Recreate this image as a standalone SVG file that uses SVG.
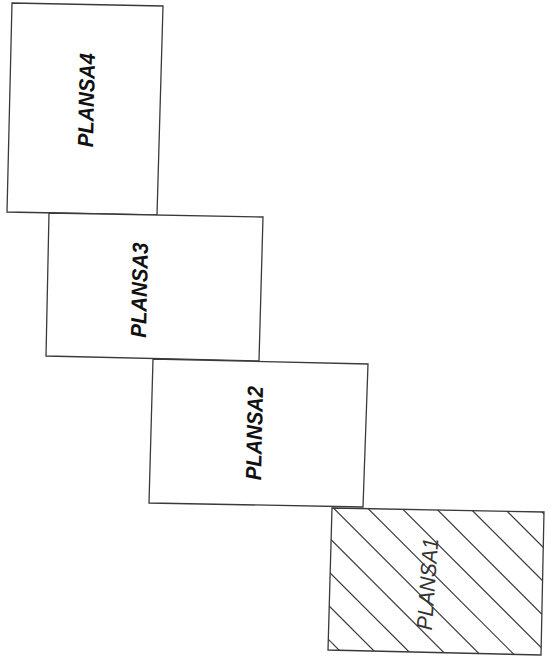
<svg xmlns="http://www.w3.org/2000/svg" width="557" height="662" viewBox="0 0 557 662">
<style>
.box{fill:#fff;stroke:#3a3a3a;stroke-width:1.3;stroke-linejoin:miter}
.hatch{stroke:#3a3a3a;stroke-width:1.2}
.lbl{font-family:"Liberation Sans",Arial,sans-serif;font-size:22px;font-style:italic;font-weight:bold;fill:#111;text-anchor:middle}
.lbl1{font-family:"Liberation Sans",Arial,sans-serif;font-size:22px;font-style:italic;font-weight:normal;fill:#333;text-anchor:middle}
</style>
<defs>
<clipPath id="clip1"><polygon points="332,508 544,512 541,655 328,650"/></clipPath>
</defs>
<rect width="557" height="662" fill="#fff"/>
<g id="plansa4">
<polygon class="box" points="12,3 163,6 157,215 7,212"/>
<text class="lbl" transform="translate(86,100) rotate(-88.8)" y="8" textLength="94" lengthAdjust="spacingAndGlyphs">PLANSA4</text>
</g>
<g id="plansa3">
<polygon class="box" points="49,213 263,217 259,361 46,356"/>
<text class="lbl" transform="translate(139,290) rotate(-88.8)" y="8" textLength="95" lengthAdjust="spacingAndGlyphs">PLANSA3</text>
</g>
<g id="plansa2">
<polygon class="box" points="153,359 368,364 363,507 149,503"/>
<text class="lbl" transform="translate(254,433) rotate(-88.8)" y="8" textLength="94" lengthAdjust="spacingAndGlyphs">PLANSA2</text>
</g>
<g id="plansa1">
<polygon class="box" points="332,508 544,512 541,655 328,650"/>
<g clip-path="url(#clip1)" class="hatch">
<line x1="169" y1="480" x2="369" y2="680"/>
<line x1="203.1" y1="480" x2="403.1" y2="680"/>
<line x1="237.2" y1="480" x2="437.2" y2="680"/>
<line x1="271.3" y1="480" x2="471.3" y2="680"/>
<line x1="305.4" y1="480" x2="505.4" y2="680"/>
<line x1="339.5" y1="480" x2="539.5" y2="680"/>
<line x1="373.6" y1="480" x2="573.6" y2="680"/>
<line x1="407.7" y1="480" x2="607.7" y2="680"/>
<line x1="441.8" y1="480" x2="641.8" y2="680"/>
<line x1="475.9" y1="480" x2="675.9" y2="680"/>
<line x1="510" y1="480" x2="710" y2="680"/>
</g>
<text class="lbl1" transform="translate(427,584) rotate(-86)" y="8" textLength="92" lengthAdjust="spacingAndGlyphs">PLANSA1</text>
</g>
<g id="connectors"></g>
</svg>
